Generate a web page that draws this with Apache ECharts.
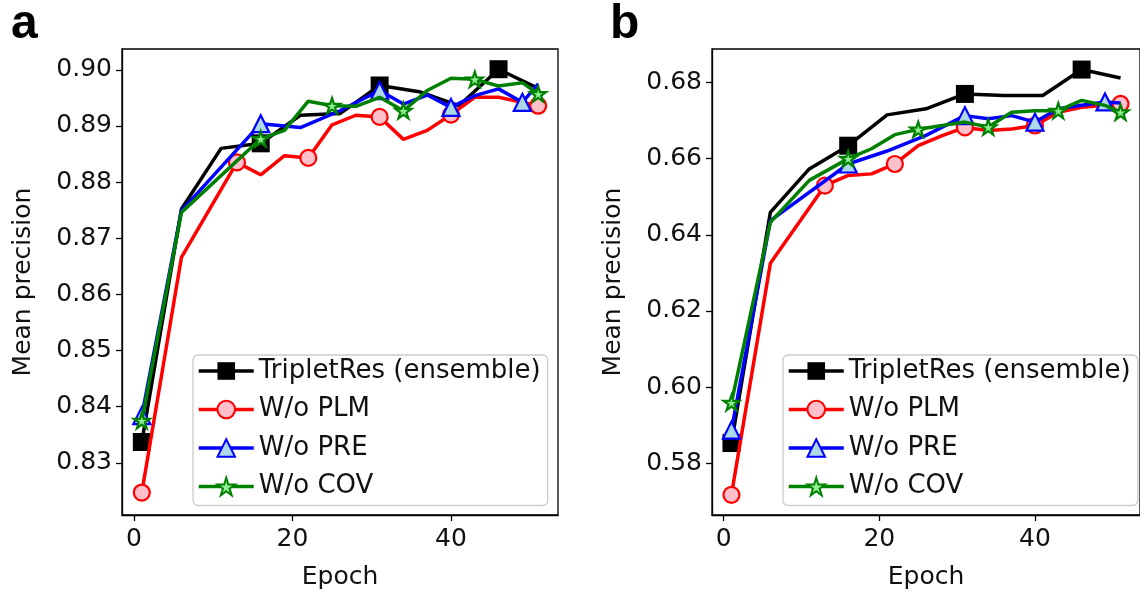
<!DOCTYPE html>
<html>
<head>
<meta charset="utf-8">
<script src="https://cdn.jsdelivr.net/npm/echarts@6/dist/echarts.min.js"></script>
<style>
  html, body { margin: 0; padding: 0; background: #fff; }
  #chart { width: 1140px; height: 597px; }
</style>
</head>
<body>
<div id="chart"></div>
<script>
// ---------- DATA ----------
const seriesNames = ['TripletRes (ensemble)', 'W/o PLM', 'W/o PRE', 'W/o COV'];
const xTicks = [0, 20, 40];
const yTicksA = [0.83, 0.84, 0.85, 0.86, 0.87, 0.88, 0.89, 0.90];
const yTicksB = [0.58, 0.60, 0.62, 0.64, 0.66, 0.68];

// Panel a
const aBlackX = [1, 6, 11, 16, 21, 26, 31, 36, 41, 46, 51];
const aBlackY = [0.8337, 0.8752, 0.8860, 0.8869, 0.8919, 0.8922, 0.8972, 0.8961, 0.8936, 0.9001, 0.8967];
const aBlackMarks = [1, 16, 31, 46];

const aRedX = [1, 6, 13, 16, 19, 22, 25, 28, 31, 34, 37, 40, 43, 46, 49, 51];
const aRedY = [0.8247, 0.8666, 0.8835, 0.8813, 0.8847, 0.8843, 0.8902, 0.8919, 0.8916, 0.8876, 0.8892, 0.8920, 0.8951, 0.8951, 0.8942, 0.8936];
const aRedMarks = [1, 13, 22, 31, 40, 51];

const aBlueX = [1, 6, 16, 19, 21, 26, 31, 34, 37, 40, 43, 46, 49, 51];
const aBlueY = [0.8384, 0.8749, 0.8904, 0.8900, 0.8897, 0.8927, 0.8963, 0.8939, 0.8955, 0.8933, 0.8954, 0.8966, 0.8942, 0.8975];
const aBlueMarks = [1, 16, 31, 40, 49];

const aGreenX = [1, 6, 16, 19, 22, 25, 28, 31, 34, 37, 40, 43, 46, 49, 51];
const aGreenY = [0.8375, 0.8746, 0.8877, 0.8892, 0.8944, 0.8936, 0.8935, 0.8951, 0.8927, 0.8963, 0.8985, 0.8983, 0.8971, 0.8977, 0.8957];
const aGreenMarks = [1, 16, 25, 34, 43, 51];

// Panel b
const bBlackX = [1, 6, 11, 16, 21, 26, 31, 36, 41, 46, 51];
const bBlackY = [0.5853, 0.6459, 0.6573, 0.6634, 0.6715, 0.6731, 0.6770, 0.6766, 0.6766, 0.6834, 0.6812];
const bBlackMarks = [1, 16, 31, 46];

const bRedX = [1, 6, 13, 16, 19, 22, 25, 28, 31, 34, 37, 40, 43, 46, 49, 51];
const bRedY = [0.5717, 0.6325, 0.6529, 0.6556, 0.6560, 0.6586, 0.6634, 0.6660, 0.6682, 0.6674, 0.6678, 0.6687, 0.6722, 0.6735, 0.6740, 0.6744];
const bRedMarks = [1, 13, 22, 31, 40, 51];

const bBlueX = [1, 6, 16, 21, 26, 31, 34, 37, 40, 43, 46, 49, 51];
const bBlueY = [0.5887, 0.6437, 0.6586, 0.6620, 0.6661, 0.6713, 0.6705, 0.6713, 0.6696, 0.6731, 0.6740, 0.6749, 0.6746];
const bBlueMarks = [1, 16, 31, 40, 49];

const bGreenX = [1, 6, 11, 16, 19, 22, 25, 31, 34, 37, 40, 43, 46, 49, 51];
const bGreenY = [0.5959, 0.6433, 0.6543, 0.6600, 0.6626, 0.6663, 0.6677, 0.6696, 0.6683, 0.6722, 0.6726, 0.6726, 0.6753, 0.6740, 0.6722];
const bGreenMarks = [1, 16, 25, 34, 43, 51];

// ---------- STYLE ----------
const FONT = 'DejaVu Sans';
const FS = 25;
const LEGEND_FS = 26;

function starPath() {
  const pts = [];
  for (let i = 0; i < 10; i++) {
    const r = i % 2 === 0 ? 1 : 0.382;
    const a = -Math.PI / 2 + i * Math.PI / 5;
    pts.push((r * Math.cos(a)).toFixed(4) + ',' + (r * Math.sin(a)).toFixed(4));
  }
  return 'path://M' + pts.join('L') + 'Z';
}

const styles = [
  { line: '#000000', fill: '#000000', border: '#000000', symbol: 'rect', size: 18 },
  { line: '#ff0000', fill: '#ffc0cb', border: '#ff0000', symbol: 'circle', size: 16 },
  { line: '#0000ff', fill: '#add8e6', border: '#0000ff', symbol: 'triangle', size: 17 },
  { line: '#008000', fill: '#90ee90', border: '#008000', symbol: starPath(), size: 16 }
];

function buildData(xs, ys, marks) {
  return xs.map((x, i) => {
    const item = { value: [x, ys[i]] };
    if (marks.indexOf(x) < 0) item.symbol = 'none';
    return item;
  });
}

function makeSeries(idx, name, xs, ys, marks, axisIdx) {
  const s = styles[idx];
  return {
    type: 'line',
    name: name,
    xAxisIndex: axisIdx,
    yAxisIndex: axisIdx,
    data: buildData(xs, ys, marks),
    symbol: s.symbol,
    symbolSize: s.size,
    symbolKeepAspect: true,
    showAllSymbol: true,
    lineStyle: { color: s.line, width: 3.5 },
    itemStyle: { color: s.fill, borderColor: s.border, borderWidth: idx === 0 ? 0 : 2.2 },
    emphasis: { disabled: true },
    z: 2 + idx,
    animation: false
  };
}

const series = [
  makeSeries(0, seriesNames[0], aBlackX, aBlackY, aBlackMarks, 0),
  makeSeries(1, seriesNames[1], aRedX, aRedY, aRedMarks, 0),
  makeSeries(2, seriesNames[2], aBlueX, aBlueY, aBlueMarks, 0),
  makeSeries(3, seriesNames[3], aGreenX, aGreenY, aGreenMarks, 0),
  makeSeries(0, seriesNames[0], bBlackX, bBlackY, bBlackMarks, 1),
  makeSeries(1, seriesNames[1], bRedX, bRedY, bRedMarks, 1),
  makeSeries(2, seriesNames[2], bBlueX, bBlueY, bBlueMarks, 1),
  makeSeries(3, seriesNames[3], bGreenX, bGreenY, bGreenMarks, 1)
];

const textStyle = { fontFamily: FONT, fontSize: FS, color: '#111' };

function xAxis(gi) {
  return {
    type: 'value', gridIndex: gi, min: -1.5, max: 53.5,
    name: 'Epoch', nameLocation: 'middle', nameGap: 50,
    nameTextStyle: textStyle,
    axisLine: { show: true, onZero: false, lineStyle: { color: '#000', width: 1.3 } },
    axisTick: { show: true, length: 6, lineStyle: { color: '#000', width: 1.3 }, customValues: xTicks },
    axisLabel: { ...textStyle, margin: 12, customValues: xTicks, formatter: v => String(Math.round(v)) },
    splitLine: { show: false }
  };
}
function yAxis(gi, min, max, ticks) {
  return {
    type: 'value', gridIndex: gi, min: min, max: max,
    name: 'Mean precision', nameLocation: 'middle', nameGap: 86,
    nameTextStyle: textStyle,
    axisLine: { show: true, onZero: false, lineStyle: { color: '#000', width: 1.3 } },
    axisTick: { show: true, length: 6, lineStyle: { color: '#000', width: 1.3 }, customValues: ticks },
    axisLabel: { ...textStyle, margin: 10, customValues: ticks, formatter: v => v.toFixed(2) },
    splitLine: { show: false }
  };
}

function legend(left) {
  return {
    orient: 'vertical', left: left, top: 355,
    data: seriesNames,
    itemWidth: 55, itemHeight: 22, itemGap: 12.5,
    lineStyle: { width: 3.5 },
    textStyle: { fontFamily: FONT, fontSize: LEGEND_FS, color: '#111' },
    backgroundColor: 'rgba(255,255,255,0.8)',
    borderColor: '#cccccc', borderWidth: 1.3, borderRadius: 5,
    padding: [3, 7, 6, 4],
    selectedMode: false
  };
}

const option = {
  backgroundColor: '#fff',
  animation: false,
  title: [
    { text: 'a', left: 6, top: -4, textStyle: { fontFamily: 'Liberation Sans', fontWeight: 'bold', fontSize: 48, color: '#000' } },
    { text: 'b', left: 605, top: -4, textStyle: { fontFamily: 'Liberation Sans', fontWeight: 'bold', fontSize: 48, color: '#000' } }
  ],
  grid: [
    { left: 122, right: 582, top: 49, bottom: 82, show: true, borderColor: '#000', borderWidth: 1.3, backgroundColor: 'transparent', containLabel: false },
    { left: 712, right: -8, top: 49, bottom: 82, show: true, borderColor: '#000', borderWidth: 1.3, backgroundColor: 'transparent', containLabel: false }
  ],
  xAxis: [xAxis(0), xAxis(1)],
  yAxis: [yAxis(0, 0.8207, 0.9037, yTicksA), yAxis(1, 0.5664, 0.6888, yTicksB)],
  legend: [legend(193), legend(783)],
  series: series
};

const chart = echarts.init(document.getElementById('chart'), null, { renderer: 'canvas' });
chart.setOption(option);
</script>
</body>
</html>
